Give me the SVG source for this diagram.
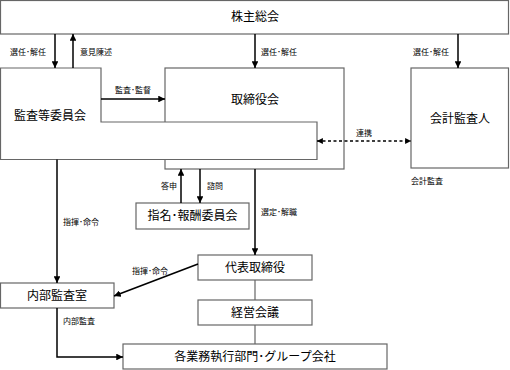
<svg xmlns="http://www.w3.org/2000/svg" width="510" height="370" viewBox="0 0 510 370">
<defs>
<style>
.box{fill:#fff;stroke:#666;stroke-width:1.2}
.t{font-family:"Liberation Sans","Noto Sans CJK JP",sans-serif;font-size:12px;fill:#000;text-anchor:middle;dominant-baseline:central}
.s{font-family:"Liberation Sans","Noto Sans CJK JP",sans-serif;font-size:8px;fill:#000;dominant-baseline:central}
.c{fill:none;stroke:#000;stroke-width:1.5}
.d{fill:none;stroke:#000;stroke-width:1.3;stroke-dasharray:3,2.5}
</style>
<marker id="a" viewBox="0 0 10 10" refX="10" refY="5" markerWidth="4.5" markerHeight="4.5" orient="auto-start-reverse" markerUnits="strokeWidth">
<path d="M0,0L10,5L0,10z" fill="#000"/>
</marker>
</defs>
<rect width="510" height="370" fill="#fff"/>
<g id="shareholders"><rect class="box" x="0.5" y="0.5" width="508" height="33.5"/><text class="t" x="255" y="17">株主総会</text></g>
<g id="board"><rect class="box" x="165" y="68" width="179" height="101"/><text class="t" x="255" y="100">取締役会</text></g>
<g id="audit-committee"><path class="box" d="M0.5,68H101V122H317V159.5H0.5Z"/><text class="t" x="50" y="116">監査等委員会</text></g>
<g id="accounting-auditor"><rect class="box" x="411" y="68" width="97.5" height="100"/><text class="t" x="460" y="119">会計監査人</text></g>
<g id="nomination"><rect class="box" x="136" y="203" width="113" height="26"/><text class="t" x="192.5" y="216">指名･報酬委員会</text></g>
<g id="representative"><rect class="box" x="198" y="255" width="114" height="25"/><text class="t" x="255" y="268">代表取締役</text></g>
<g id="management"><rect class="box" x="198" y="300" width="114" height="25"/><text class="t" x="255" y="313">経営会議</text></g>
<g id="internal-audit"><rect class="box" x="0.5" y="283" width="113.5" height="25"/><text class="t" x="57" y="296">内部監査室</text></g>
<g id="divisions"><rect class="box" x="123" y="344" width="264" height="25"/><text class="t" x="255" y="357">各業務執行部門･グループ会社</text></g>
<g id="connectors">
<path class="c" d="M55,34V68" marker-end="url(#a)"/>
<path class="c" d="M73,68V34" marker-end="url(#a)"/>
<path class="c" d="M255,34V68" marker-end="url(#a)"/>
<path class="c" d="M458,34V68" marker-end="url(#a)"/>
<path class="c" d="M101,99H165" marker-end="url(#a)"/>
<path class="d" d="M317,141H411" marker-start="url(#a)" marker-end="url(#a)"/>
<path class="c" d="M181,203V169" marker-end="url(#a)"/>
<path class="c" d="M200,169V203" marker-end="url(#a)"/>
<path class="c" d="M57,159.5V283" marker-end="url(#a)"/>
<path class="c" d="M255,169V255" marker-end="url(#a)"/>
<path class="c" d="M198,264L114,296" marker-end="url(#a)"/>
<path class="box" d="M255,280V300M255,325V344" fill="none"/>
<path class="c" d="M57,308V357H123" marker-end="url(#a)"/>
<text class="s" x="10" y="52">選任･解任</text>
<text class="s" x="80" y="52">意見陳述</text>
<text class="s" x="261" y="52">選任･解任</text>
<text class="s" x="413" y="52">選任･解任</text>
<text class="s" x="115" y="90">監査･監督</text>
<text class="s" x="356" y="133">連携</text>
<text class="s" x="411" y="181">会計監査</text>
<text class="s" x="161" y="186">答申</text>
<text class="s" x="207" y="186">諮問</text>
<text class="s" x="63" y="222">指揮･命令</text>
<text class="s" x="261" y="212">選定･解職</text>
<text class="s" x="132" y="271">指揮･命令</text>
<text class="s" x="63" y="321">内部監査</text>
</g>
</svg>
